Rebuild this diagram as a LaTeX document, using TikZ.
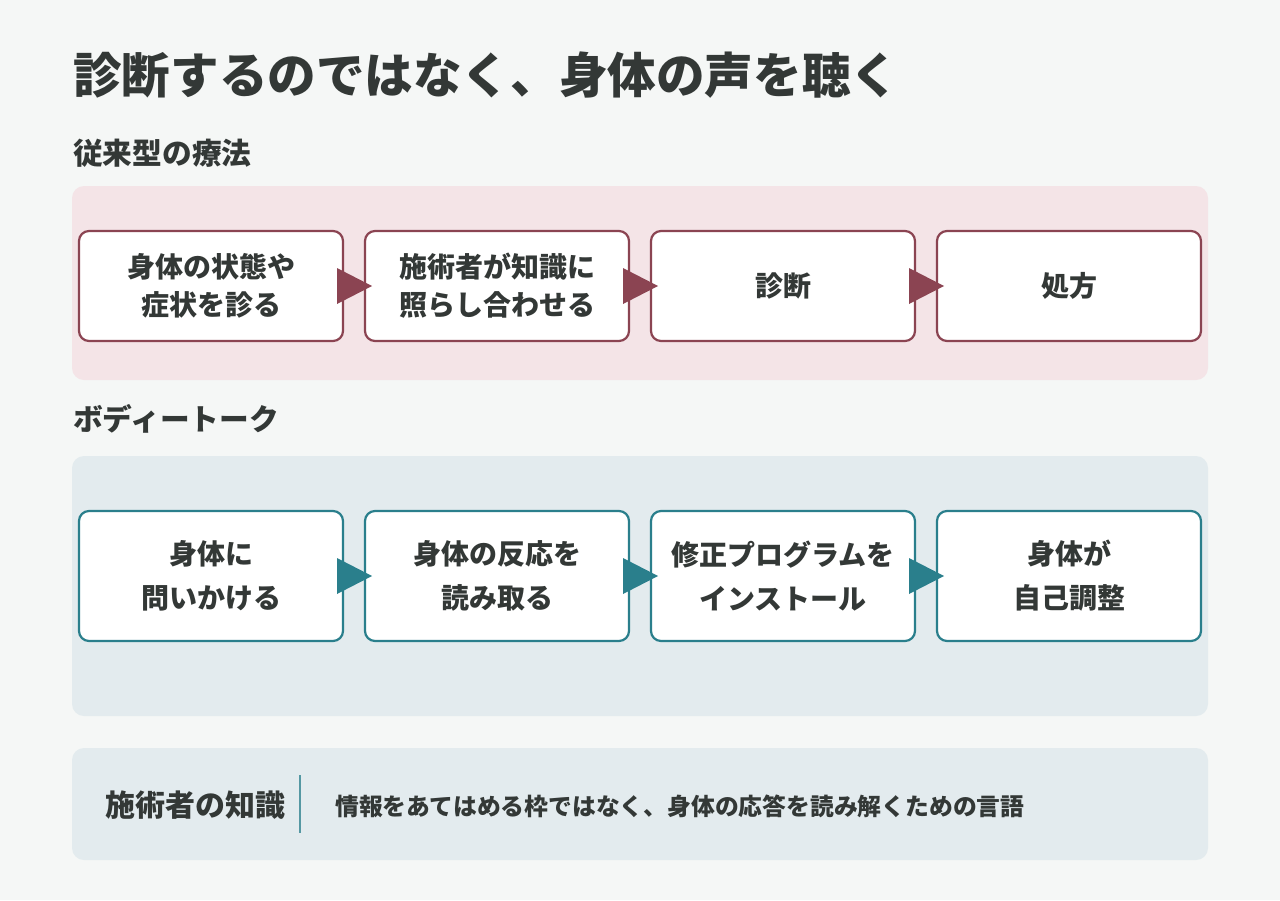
\documentclass[tikz,border=0pt]{standalone}
\usepackage{fontspec}
\setmainfont{Noto Sans CJK JP}
\usetikzlibrary{calc}
\definecolor{bgc}{HTML}{F5F7F6}
\definecolor{pinkbg}{HTML}{F4E4E7}
\definecolor{maroon}{HTML}{8B4452}
\definecolor{bluebg}{HTML}{E3EBEE}
\definecolor{teal}{HTML}{2A7F8C}
\definecolor{ink}{HTML}{333836}
\tikzset{
  step/.style={draw=#1,line width=2.2pt,fill=white,rounded corners=10pt,minimum width=264pt,minimum height=110pt,
    align=center,text=ink,font=\fontsize{28}{38}\selectfont\bfseries},
  head/.style={anchor=west,text=ink,inner sep=0pt,font=\fontsize{29.7}{34}\selectfont\bfseries}
}
\newcommand{\tri}[3]{% from, to, colour
  \path (#1.east) -- (#2.west) coordinate[midway] (m);
  \fill[#3] ($(m)+(-17,-18)$) -- ($(m)+(18,0)$) -- ($(m)+(-17,18)$) -- cycle;}
\begin{document}
\begin{tikzpicture}[x=1pt,y=-1pt]
  \fill[bgc] (0,0) rectangle (1280,900);
  \useasboundingbox (0,0) rectangle (1280,900);

  \node[anchor=west,text=ink,inner sep=0pt,font=\fontsize{48.6}{56}\selectfont\bfseries] (title) at (73,75) {診断するのではなく、身体の声を聴く};

  % 従来型
  \node[head] (h1) at (73,153) {従来型の療法};
  \fill[pinkbg,rounded corners=12pt] (72,186) rectangle (1208,380);
  \node[step=maroon] (a1) at (211,286) {身体の状態や\\症状を診る};
  \node[step=maroon] (a2) at (497,286) {施術者が知識に\\照らし合わせる};
  \node[step=maroon] (a3) at (783,286) {診断};
  \node[step=maroon] (a4) at (1069,286) {処方};
  \tri{a1}{a2}{maroon}
  \tri{a2}{a3}{maroon}
  \tri{a3}{a4}{maroon}

  % ボディートーク
  \node[head] (h2) at (73,419) {ボディートーク};
  \fill[bluebg,rounded corners=12pt] (72,456) rectangle (1208,716);
  \tikzset{every node/.append style={font=\fontsize{28}{44}\selectfont\bfseries}}
  \node[step=teal,minimum height=130pt,font=\fontsize{28}{44}\selectfont\bfseries] (b1) at (211,576) {身体に\\問いかける};
  \node[step=teal,minimum height=130pt,font=\fontsize{28}{44}\selectfont\bfseries] (b2) at (497,576) {身体の反応を\\読み取る};
  \node[step=teal,minimum height=130pt,font=\fontsize{28}{44}\selectfont\bfseries] (b3) at (783,576) {修正プログラムを\\インストール};
  \node[step=teal,minimum height=130pt,font=\fontsize{28}{44}\selectfont\bfseries] (b4) at (1069,576) {身体が\\自己調整};
  \tri{b1}{b2}{teal}
  \tri{b2}{b3}{teal}
  \tri{b3}{b4}{teal}

  % 施術者の知識
  \fill[bluebg,rounded corners=12pt] (72,748) rectangle (1208,860);
  \node[anchor=west,text=ink,inner sep=0pt,font=\fontsize{30}{34}\selectfont\bfseries] (k) at (105,805) {施術者の知識};
  \coordinate (s1) at (300,775);
  \coordinate (s2) at (300,833);
  \draw[teal!80,line width=1.5pt] (s1) -- (s2);
  \node[anchor=west,text=ink,inner sep=0pt,font=\fontsize{23.8}{28}\selectfont\bfseries] (kt) at (335,806) {情報をあてはめる枠ではなく、身体の応答を読み解くための言語};
\end{tikzpicture}
\end{document}
